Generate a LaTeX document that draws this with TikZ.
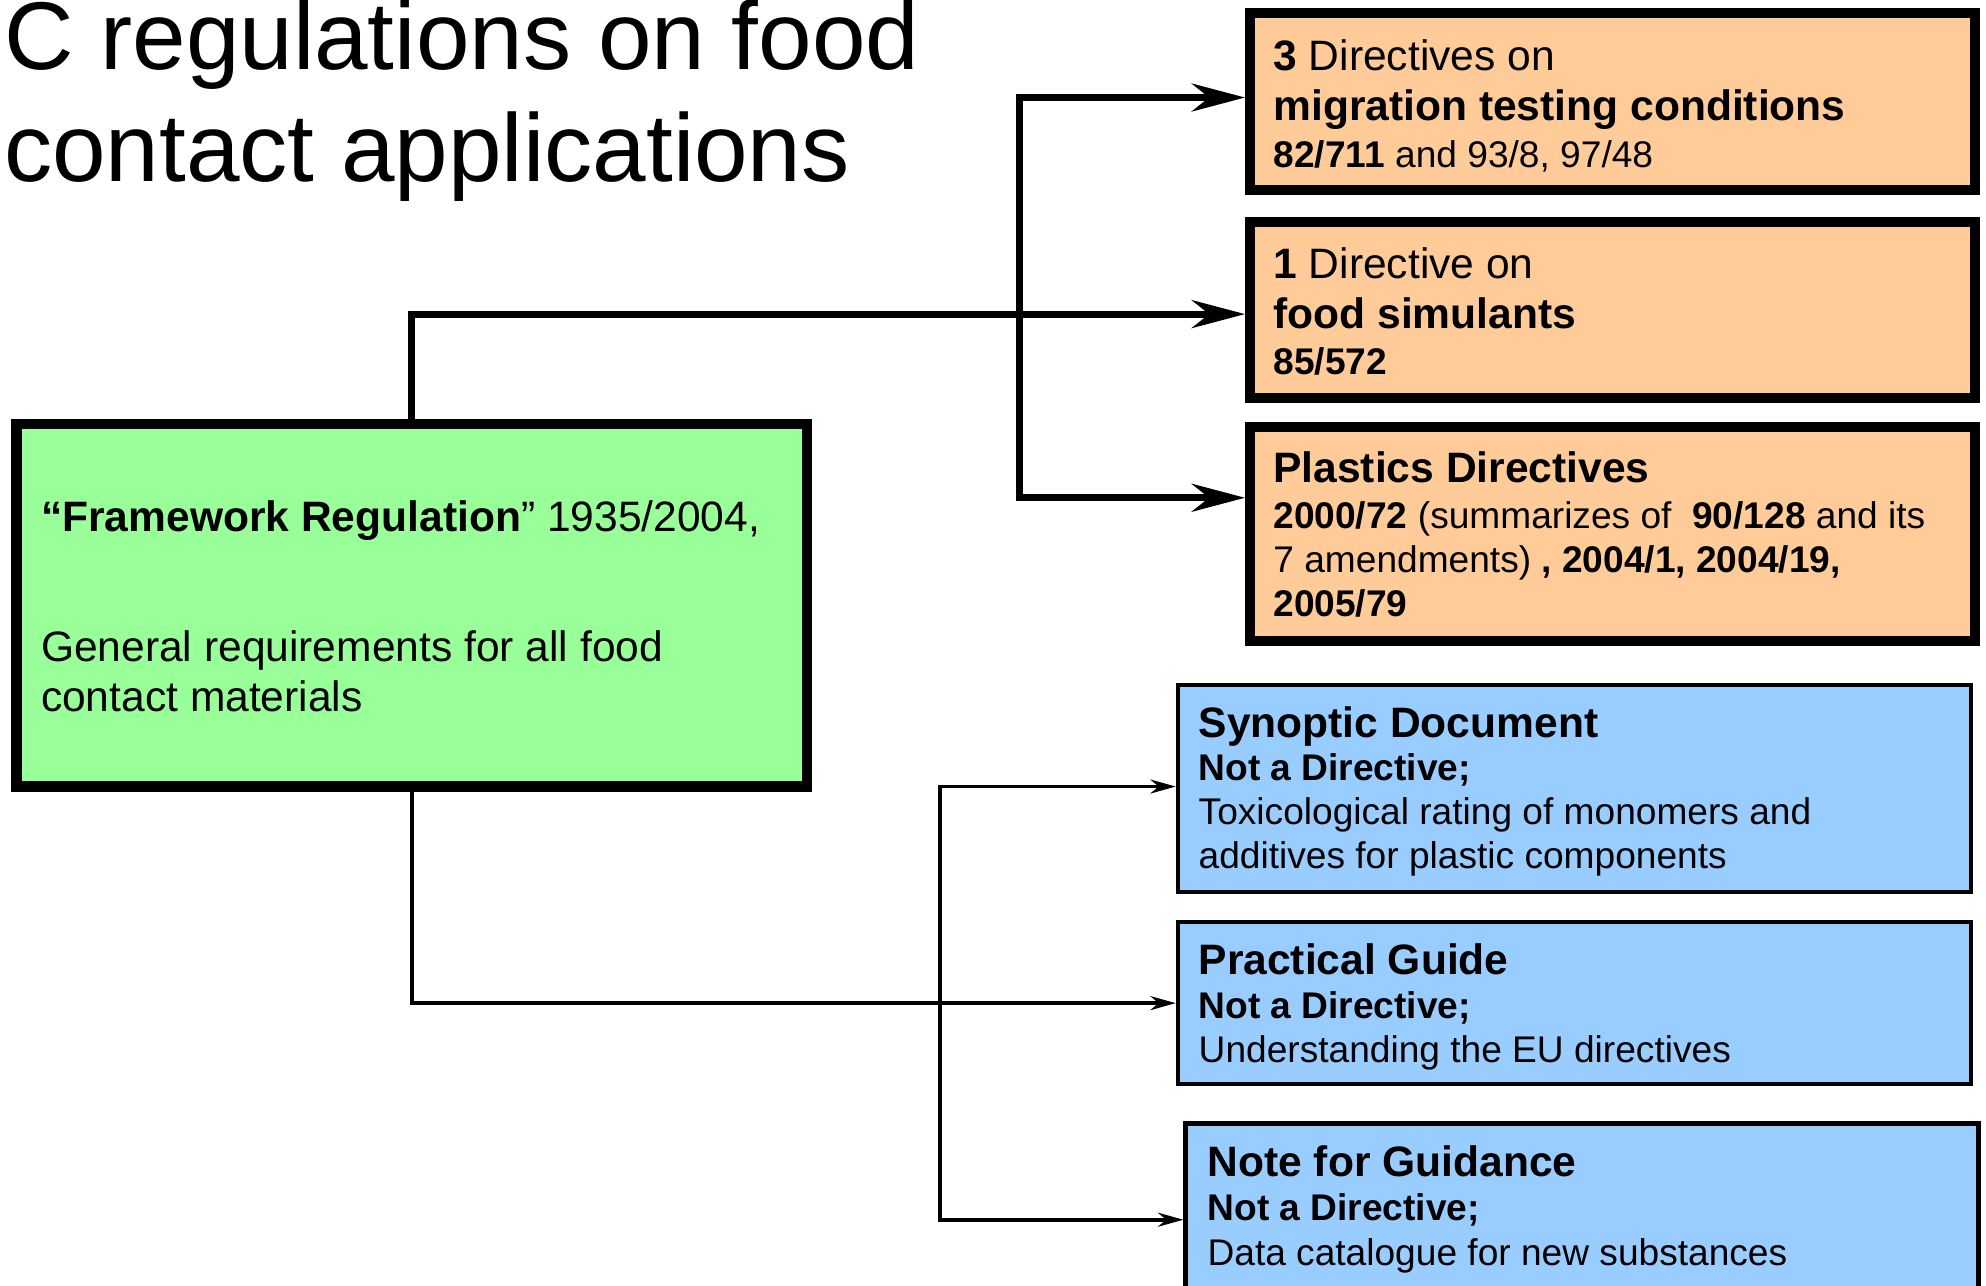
\documentclass[tikz,border=0pt]{standalone}
\usepackage{fontspec}
\setmainfont{Liberation Sans}
\usetikzlibrary{arrows.meta}
\definecolor{peach}{HTML}{FFCC99}
\definecolor{mint}{HTML}{99FF99}
\definecolor{sky}{HTML}{99CCFF}
\newcommand{\bigf}{\fontsize{16.8}{20}\selectfont}
\newcommand{\smf}{\fontsize{14.65}{17}\selectfont}
\begin{document}
\begin{tikzpicture}[x=0.5pt,y=-0.5pt,
  obox/.style={draw=black, line width=4pt, fill=peach, inner sep=0pt},
  gbox/.style={draw=black, line width=4pt, fill=mint, inner sep=0pt},
  bbox/.style={draw=black, line width=1.7pt, fill=sky, inner sep=0pt},
  tx/.style={anchor=base west, inner sep=0pt},
  BigTip/.tip={Stealth[length=21pt,width=11pt]},
  SmallTip/.tip={Stealth[length=10pt,width=5.5pt]},
  tk/.style={line width=2.8pt, line join=miter},
  tn/.style={line width=1.5pt, line join=miter}]
\useasboundingbox (0,0) rectangle (1568,1015);
\clip (0,0) rectangle (1568,1015);

% title
\node[tx, font=\fontsize{38}{44}\selectfont] (ttl1) at (3,55) {C regulations on food};
\node[tx, font=\fontsize{38}{44}\selectfont] (ttl2) at (3,143) {contact applications};

% boxes
\node[obox, minimum width=286pt, minimum height=70pt] (b1) at (1273,80) {};
\node[obox, minimum width=286pt, minimum height=69.5pt] (b2) at (1273,244.5) {};
\node[obox, minimum width=286pt, minimum height=84.5pt] (b3) at (1273,421.5) {};
\node[gbox, minimum width=312pt, minimum height=143pt] (fw) at (325,478) {};
\node[bbox, minimum width=313pt, minimum height=81.5pt] (bA) at (1243,622.5) {};
\node[bbox, minimum width=313pt, minimum height=64pt] (bB) at (1243,792) {};
\node[bbox, minimum width=313pt, minimum height=86.5pt] (bC) at (1249,973.5) {};

% box 1 text
\node[tx, font=\bigf] (t1a) at (1005,56) {\textbf{3} Directives on};
\node[tx, font=\bigf] (t1b) at (1005,95) {\textbf{migration testing conditions}};
\node[tx, font=\smf] (t1c) at (1005,132) {\textbf{82/711} and 93/8, 97/48};
% box 2 text
\node[tx, font=\bigf] (t2a) at (1005,220) {\textbf{1} Directive on};
\node[tx, font=\bigf] (t2b) at (1005,259) {\textbf{food simulants}};
\node[tx, font=\smf] (t2c) at (1005,296) {\textbf{85/572}};
% box 3 text
\node[tx, font=\bigf] (t3a) at (1005,381) {\textbf{Plastics Directives}};
\node[tx, font=\smf] (t3b) at (1005,417) {\textbf{2000/72} (summarizes of\ \ \textbf{90/128} and its};
\node[tx, font=\smf] (t3c) at (1005,452) {7 amendments) \textbf{, 2004/1, 2004/19,}};
\node[tx, font=\smf] (t3d) at (1005,487) {\textbf{2005/79}};
% framework text
\node[tx, font=\bigf] (fwa) at (32,420) {\textbf{“Framework Regulation}” 1935/2004,};
\node[tx, font=\bigf] (fwb) at (32,522) {General requirements for all food};
\node[tx, font=\bigf] (fwc) at (32,562) {contact materials};
% box A text
\node[tx, font=\bigf] (tAa) at (946,582) {\textbf{Synoptic Document}};
\node[tx, font=\smf] (tAb) at (946,616) {\textbf{Not a Directive;}};
\node[tx, font=\smf] (tAc) at (946,651) {Toxicological rating of monomers and};
\node[tx, font=\smf] (tAd) at (946,686) {additives for plastic components};
% box B text
\node[tx, font=\bigf] (tBa) at (946,769) {\textbf{Practical Guide}};
\node[tx, font=\smf] (tBb) at (946,804) {\textbf{Not a Directive;}};
\node[tx, font=\smf] (tBc) at (946,839) {Understanding the EU directives};
% box C text
\node[tx, font=\bigf] (tCa) at (953,929) {\textbf{Note for Guidance}};
\node[tx, font=\smf] (tCb) at (953,964) {\textbf{Not a Directive;}};
\node[tx, font=\smf] (tCc) at (953,999) {Data catalogue for new substances};

% junctions
\coordinate (ja) at (805,77);
\coordinate (jb) at (805,393);
\coordinate (jc) at (325,248);
\coordinate (jA) at (742,621);
\coordinate (jC) at (742,963);

% thick connectors
\draw[tk, -BigTip] (fw.north) -- (jc) -- (jc -| b2.west);
\draw[tk, BigTip-BigTip] (jb -| b3.west) -- (jb) -- (ja) -- (ja -| b1.west);
% thin connectors
\draw[tn, -SmallTip] (fw.south) |- (bB.west);
\draw[tn, SmallTip-SmallTip] (jA -| bA.west) -- (jA) -- (jC) -- (jC -| bC.west);
\end{tikzpicture}
\end{document}
